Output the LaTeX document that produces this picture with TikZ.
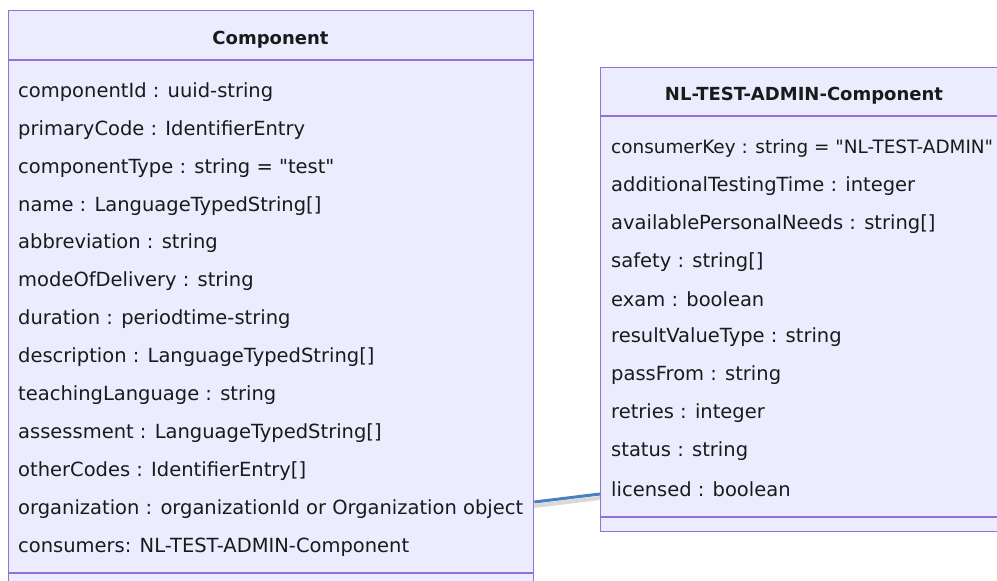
\documentclass[tikz,border=0pt]{standalone}
\usepackage{fontspec}
\setmainfont{DejaVu Sans}[Ligatures=TeXOff]
\definecolor{boxfill}{HTML}{ECECFF}
\definecolor{boxline}{HTML}{9370DB}
\definecolor{linkcol}{HTML}{4A7FC0}
\definecolor{txt}{HTML}{1A1A1A}
\begin{document}
\begin{tikzpicture}[x=1pt,y=-1pt,
  classbox/.style={draw=boxline,fill=boxfill,line width=1.3pt,anchor=north west,inner sep=0pt},
  sepline/.style={draw=boxline,line width=1.3pt},
  attr/.style={anchor=west,inner sep=0pt,text=txt,font=\fontsize{19.5}{23}\selectfont},
  title/.style={inner sep=0pt,text=txt,font=\fontsize{18}{22}\selectfont\bfseries},
  link/.style={draw=linkcol,line width=3pt},
  shadowlink/.style={draw=black,opacity=0.15,line width=4pt}]
\useasboundingbox (0,0) rectangle (997,581);
\begin{scope}
\clip (0,0) rectangle (997,581);
% left class
\node[classbox,minimum width=525pt,minimum height=620pt] (comp) at (8,10) {};
\draw[sepline] (8,60) -- (533,60);
\draw[sepline] (8,573) -- (533,573);
\node[title] (compt) at (270.5,40) {Component};
\foreach \i/\t in {0/{componentId : uuid-string},1/{primaryCode : IdentifierEntry},2/{componentType : string = "test"},3/{name : LanguageTypedString[]},4/{abbreviation : string},5/{modeOfDelivery : string},6/{duration : periodtime-string},7/{description : LanguageTypedString[]},8/{teachingLanguage : string},9/{assessment : LanguageTypedString[]},10/{otherCodes : IdentifierEntry[]},11/{organization : organizationId or Organization object},12/{consumers: NL-TEST-ADMIN-Component}}
  \node[attr] (ca\i) at (18,{92+37.9*\i}) {\t};
% right class
\node[classbox,minimum width=420pt,minimum height=464pt] (nl) at (600,67) {};
\draw[sepline] (600,116) -- (1020,116);
\draw[sepline] (600,517) -- (1020,517);
\node[title] (nlt) at (804,96) {NL-TEST-ADMIN-Component};
\node[attr,font=\fontsize{18.4}{22}\selectfont] (na0) at (611,148) {consumerKey : string = "NL-TEST-ADMIN"};
\foreach \i/\t in {1/{additionalTestingTime : integer},2/{availablePersonalNeeds : string[]},3/{safety : string[]},4/{exam : boolean},5/{resultValueType : string},6/{passFrom : string},7/{retries : integer},8/{status : string},9/{licensed : boolean}}
  \node[attr] (na\i) at (611,{148+37.9*\i}) {\t};
% connector
\coordinate (la) at ([yshift=-492pt]comp.north east);
\coordinate (lb) at ([yshift=-427pt]nl.north west);
\draw[shadowlink] ([yshift=-4pt]la) -- ([yshift=-4pt]lb);
\draw[link] (la) -- (lb);
\end{scope}
\end{tikzpicture}
\end{document}
